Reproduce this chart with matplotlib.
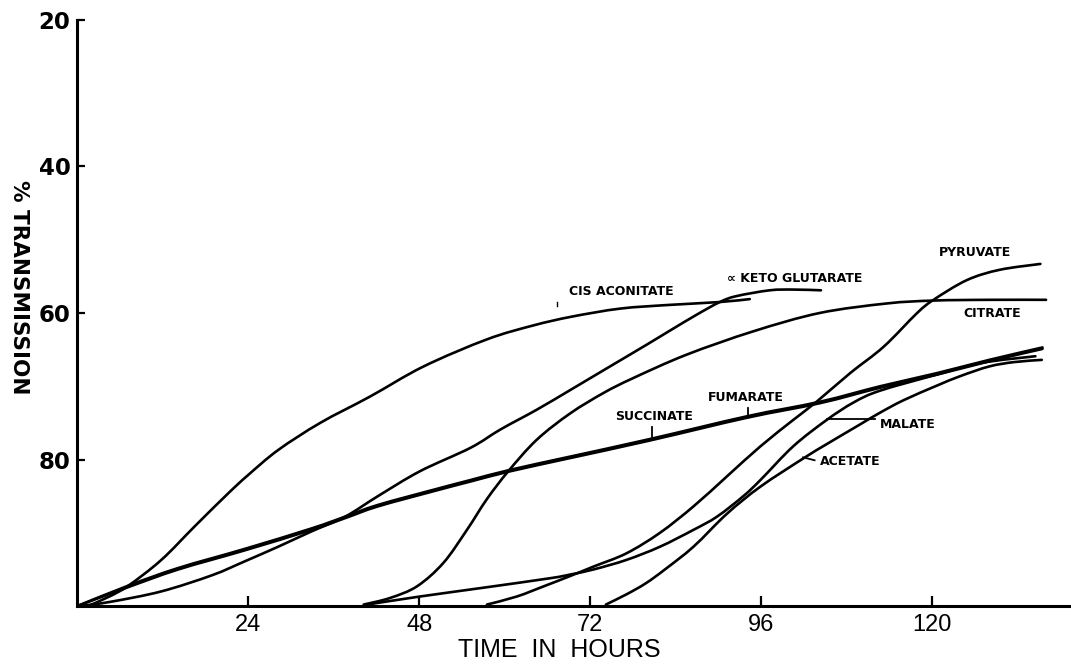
import matplotlib
matplotlib.use("Agg")
import matplotlib.pyplot as plt
from matplotlib import font_manager as fm
from matplotlib.path import Path
from matplotlib.patches import PathPatch

# ---------------- data (hours, % transmission) ----------------
cis_aconitate_t = [1.5, 4.5, 7.2, 11.8, 16.5, 21.2, 24.0, 28.2, 34.1, 41.1, 48.6, 57.5, 64.0, 69.4, 76.2, 83.0, 90.2, 94.4]
cis_aconitate_v = [100, 98.7, 97.2, 93.7, 89.1, 84.6, 82.1, 78.7, 75.0, 71.4, 67.3, 63.6, 61.7, 60.5, 59.4, 58.9, 58.5, 58.1]

keto_glutarate_t = [0.5, 4.8, 11.8, 18.9, 23.5, 28.2, 32.9, 37.6, 42.2, 48.1, 55.2, 59.4, 64.5, 69.4, 73.9, 79.8, 83.2, 87.0, 90.2, 92.5, 97.2, 100.5, 104.4]
keto_glutarate_v = [100, 99.4, 98.0, 95.8, 93.9, 91.9, 89.8, 87.8, 85.0, 81.6, 78.4, 75.9, 73.2, 70.4, 67.8, 64.4, 62.4, 60.2, 58.5, 57.7, 56.9, 56.8, 56.9]

citrate_t = [40.2, 43.9, 47.7, 51.4, 54.7, 57.5, 60.5, 64.5, 69.2, 73.9, 78.0, 85.5, 94.9, 104.2, 113.6, 120.2, 128.0, 136.0]
citrate_v = [99.8, 98.9, 97.3, 94.1, 89.6, 85.4, 81.6, 77.3, 73.7, 70.9, 68.9, 65.7, 62.5, 60.0, 58.7, 58.3, 58.2, 58.2]

succinate_t = [0, 7.2, 14.2, 23.5, 32.9, 37.6, 42.2, 50.5, 55.2, 60.8, 69.2, 80.4, 94.0, 104.3, 112.7, 120.7, 128.0, 135.5]
succinate_v = [100, 97.2, 94.8, 92.2, 89.4, 87.8, 86.2, 84.0, 82.8, 81.4, 79.6, 77.2, 74.1, 72.1, 70.0, 68.2, 66.4, 64.7]

fumarate_t = [0, 7.2, 14.2, 23.5, 32.9, 37.6, 42.2, 50.5, 55.2, 60.8, 69.2, 80.4, 94.0, 104.3, 112.7, 120.7, 128.0, 135.5]
fumarate_v = [100, 97.4, 95.0, 92.4, 89.6, 88.0, 86.4, 84.2, 83.0, 81.6, 79.8, 77.4, 74.3, 72.3, 70.2, 68.4, 66.6, 64.9]

pyruvate_t = [57.5, 61.7, 65.5, 69.2, 72.5, 77.1, 81.8, 86.5, 91.2, 95.9, 100.5, 103.8, 108.5, 113.2, 117.9, 120.2, 124.9, 129.5, 135.2]
pyruvate_v = [99.8, 98.7, 97.3, 95.9, 94.6, 92.8, 90.0, 86.4, 82.3, 78.2, 74.6, 72.1, 68.2, 64.6, 60.0, 58.2, 55.5, 54.1, 53.3]

malate_t = [40.7, 48.1, 57.0, 66.4, 69.2, 72.5, 77.1, 81.8, 86.5, 89.8, 93.5, 95.9, 100.5, 105.2, 109.0, 112.7, 120.7, 127.0, 134.5]
malate_v = [99.8, 98.7, 97.5, 96.2, 95.7, 95.0, 93.7, 91.9, 89.6, 87.8, 85.0, 82.8, 78.2, 74.6, 72.2, 70.6, 68.4, 66.8, 65.9]

acetate_t = [74.2, 77.1, 79.8, 82.5, 86.5, 91.2, 95.9, 102.0, 105.2, 109.9, 112.7, 116.0, 120.7, 124.0, 128.0, 131.5, 135.4]
acetate_v = [99.8, 98.4, 96.9, 95.0, 91.9, 87.4, 83.7, 79.8, 77.9, 75.2, 73.6, 71.9, 69.9, 68.6, 67.3, 66.7, 66.4]

x_ticks = [24, 48, 72, 96, 120]
y_ticks = [20, 40, 60, 80]

# ---------------- fonts ----------------
names = {f.name for f in fm.fontManager.ttflist}
narrow = 'Liberation Sans Narrow' if 'Liberation Sans Narrow' in names else 'Liberation Sans'

# ---------------- figure ----------------
fig = plt.figure(figsize=(10.71, 6.64), dpi=100)
ax = fig.add_axes([0.0722, 0.0873, 0.9278, 0.8826])
ax.set_xlim(0, 139.5)
ax.set_ylim(100, 20)


def smooth_curve(ax, t, v, lw=1.9):
    """Draw a smooth pen-like curve through the read points (Bezier path in data coords)."""
    pts = list(zip(t, v))
    n = len(pts)
    verts = [pts[0]]
    codes = [Path.MOVETO]
    for i in range(n - 1):
        p0 = pts[i - 1] if i > 0 else pts[i]
        p1 = pts[i]
        p2 = pts[i + 1]
        p3 = pts[i + 2] if i + 2 < n else pts[i + 1]
        c1 = (p1[0] + (p2[0] - p0[0]) / 6.0, p1[1] + (p2[1] - p0[1]) / 6.0)
        c2 = (p2[0] - (p3[0] - p1[0]) / 6.0, p2[1] - (p3[1] - p1[1]) / 6.0)
        verts += [c1, c2, p2]
        codes += [Path.CURVE4] * 3
    patch = PathPatch(Path(verts, codes), facecolor='none', edgecolor='black',
                      lw=lw, capstyle='round', joinstyle='round', transform=ax.transData)
    ax.add_patch(patch)


smooth_curve(ax, cis_aconitate_t, cis_aconitate_v)
smooth_curve(ax, keto_glutarate_t, keto_glutarate_v)
smooth_curve(ax, citrate_t, citrate_v)
smooth_curve(ax, succinate_t, succinate_v)
smooth_curve(ax, fumarate_t, fumarate_v)
smooth_curve(ax, pyruvate_t, pyruvate_v)
smooth_curve(ax, malate_t, malate_v)
smooth_curve(ax, acetate_t, acetate_v)

# labels
lab = dict(fontsize=9, fontweight='bold', family='DejaVu Sans', ha='center', va='center')
ax.text(76.4, 57.0, 'CIS ACONITATE', **lab)
ax.text(100.7, 55.3, '\u221d KETO GLUTARATE', **lab)
ax.text(126.0, 51.7, 'PYRUVATE', **lab)
ax.text(128.4, 60.1, 'CITRATE', **lab)
ax.text(93.8, 71.6, 'FUMARATE', **lab)
ax.text(80.9, 74.1, 'SUCCINATE', **lab)
ax.text(116.6, 75.2, 'MALATE', **lab)
ax.text(108.5, 80.3, 'ACETATE', **lab)

# leader marks
lk = dict(color='black', lw=1.3)
ax.plot([80.7, 80.7], [75.6, 77.2], **lk)
ax.plot([94.1, 94.1], [72.9, 74.0], **lk)
ax.plot([105.3, 112.0], [74.5, 74.5], **lk)
ax.plot([101.9, 103.5], [79.7, 80.1], **lk)
ax.plot([67.4, 67.4], [58.5, 59.1], color='black', lw=1.0)

# axes styling
for s in ['top', 'right']:
    ax.spines[s].set_visible(False)
for s in ['left', 'bottom']:
    ax.spines[s].set_linewidth(2.2)

ax.set_xticks(x_ticks)
ax.set_xticklabels([str(v) for v in x_ticks], family=narrow, fontsize=17)
ax.set_yticks(y_ticks)
ax.set_yticklabels([str(v) for v in y_ticks], family='DejaVu Sans', fontweight='bold', fontsize=16.5)
ax.tick_params(axis='x', direction='in', length=7, width=1.6, pad=6)
ax.tick_params(axis='y', direction='in', length=5.5, width=1.6, pad=5)

fig.text(0.522, 0.021, 'TIME  IN  HOURS', family='Liberation Sans', fontsize=18,
         ha='center', va='center')
fig.text(0.0173, 0.568, '% TRANSMISSION', family='DejaVu Sans', fontweight='bold',
         fontsize=15.5, rotation=-90, ha='center', va='center')

fig.savefig('out.png', dpi=100)
